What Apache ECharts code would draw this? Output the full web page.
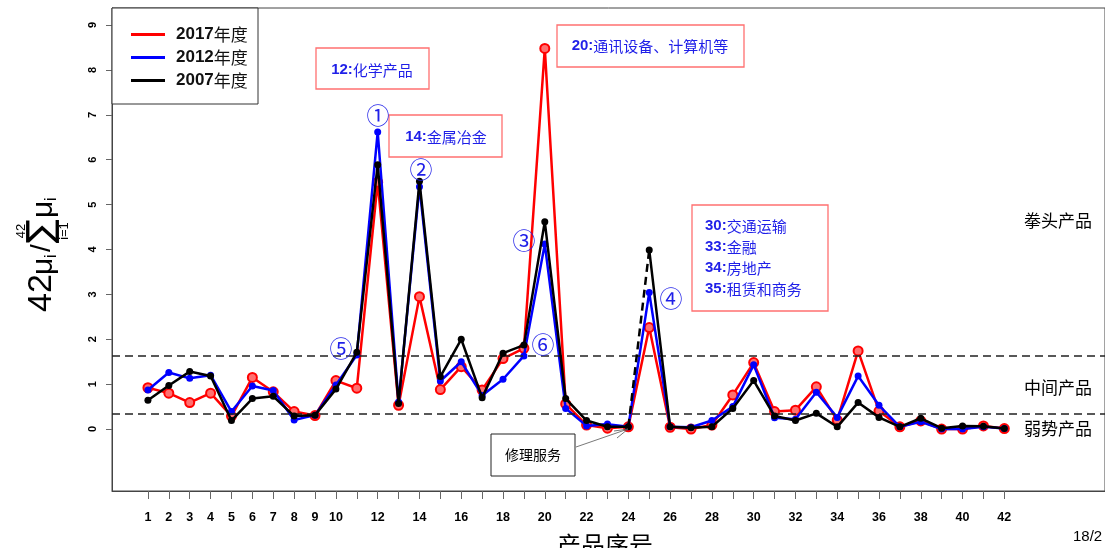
<!DOCTYPE html>
<html>
<head>
<meta charset="utf-8">
<script src="https://cdn.jsdelivr.net/npm/echarts@6/dist/echarts.min.js"></script>
<style>
html,body{margin:0;padding:0;background:#fff;}
#chart{width:1105px;height:548px;}
</style>
</head>
<body>
<div id="chart"></div>
<script>
// ---- data ----
const products = Array.from({length: 42}, (_, i) => i + 1);
const seriesNames = ['2017年度', '2012年度', '2007年度'];
const v2017 = [0.92,0.80,0.59,0.80,0.29,1.15,0.83,0.39,0.30,1.08,
               0.91,5.50,0.53,2.95,0.88,1.39,0.87,1.57,1.80,8.48,
               0.56,0.09,0.02,0.05,2.26,0.04,0.00,0.09,0.76,1.48,
               0.39,0.42,0.94,0.20,1.74,0.40,0.05,0.18,0.00,0.00,0.07,0.01];
const v2012 = [0.87,1.26,1.13,1.20,0.39,0.96,0.86,0.20,0.31,0.98,
               1.65,6.62,0.60,5.40,1.07,1.50,0.75,1.11,1.63,4.12,
               0.46,0.07,0.11,0.05,3.04,0.05,0.04,0.19,0.50,1.43,
               0.25,0.22,0.82,0.26,1.18,0.53,0.05,0.16,0.00,0.00,0.05,0.01];
const v2007 = [0.64,0.97,1.28,1.18,0.19,0.68,0.73,0.29,0.31,0.89,
               1.71,5.89,0.57,5.52,1.17,2.00,0.70,1.69,1.87,4.62,
               0.68,0.19,0.05,0.05,3.99,0.05,0.03,0.05,0.46,1.08,
               0.29,0.19,0.35,0.05,0.59,0.26,0.05,0.24,0.02,0.07,0.06,0.01];
const thresholds = [1.64, 0.33];
const yTicks = [0,1,2,3,4,5,6,7,8,9];
const xLabels = [1,2,3,4,5,6,7,8,9,10,12,14,16,18,20,22,24,26,28,30,32,34,36,38,40,42];
const dashedFrom = 24, dashedTo = 25;

// ---- build ----
const pairs = arr => arr.map((v, i) => [products[i], v]);
const pairsRange = (arr, a, b) => arr.map((v, i) => [products[i], v]).filter(p => p[0] >= a && p[0] <= b);

const chart = echarts.init(document.getElementById('chart'));
const cjk = '"Noto Sans CJK SC", "Noto Sans", sans-serif';
const latin = '"Liberation Sans", Arial, sans-serif';
const narrow = '"Liberation Sans Narrow", "Liberation Sans", Arial, sans-serif';
const blueTxt = '#1f1fe8';

function txt(x, y, text, extra) {
  return Object.assign({type: 'text', silent: true, z: 50,
    style: Object.assign({x: x, y: y, text: text, fill: '#000', fontFamily: cjk, fontSize: 15,
      align: 'center', verticalAlign: 'middle'}, extra || {})});
}
function box(x, y, w, h, stroke, lw) {
  return {type: 'rect', silent: true, z: 40, shape: {x: x, y: y, width: w, height: h},
    style: {fill: '#fff', stroke: stroke, lineWidth: lw}};
}
function ft(x, y, text, size, align, family) {
  return {type: 'text', style: {x: x, y: y, text: text, fontSize: size, fontFamily: family || latin, fill: '#000',
    align: align || 'left', verticalAlign: 'middle'}};
}
const annRich = {b: {fontWeight: 'bold', fontFamily: latin, fontSize: 15, fill: blueTxt}};

const graphics = [
  // legend frame
  {type: 'rect', silent: true, z: 1, shape: {x: 112, y: 8, width: 146, height: 96},
   style: {fill: '#fff', stroke: '#333', lineWidth: 1}},
  // annotation boxes
  box(316, 48, 113, 41, '#ff7070', 1.3),
  txt(372, 70, '{b|12:}化学产品', {fill: blueTxt, rich: annRich}),
  box(389, 115, 113, 42, '#ff7070', 1.3),
  txt(446, 137, '{b|14:}金属冶金', {fill: blueTxt, rich: annRich}),
  box(557, 25, 187, 42, '#ff7070', 1.3),
  txt(650, 46, '{b|20:}通讯设备、计算机等', {fill: blueTxt, rich: annRich}),
  box(692, 205, 136, 106, '#ff7070', 1.3),
  txt(705, 226, '{b|30:}交通运输', {fill: blueTxt, rich: annRich, align: 'left'}),
  txt(705, 247, '{b|33:}金融', {fill: blueTxt, rich: annRich, align: 'left'}),
  txt(705, 268, '{b|34:}房地产', {fill: blueTxt, rich: annRich, align: 'left'}),
  txt(705, 289, '{b|35:}租赁和商务', {fill: blueTxt, rich: annRich, align: 'left'}),
  // circled numbers
  txt(378, 115, '①', {fill: blueTxt, fontSize: 23}),
  txt(421, 169, '②', {fill: blueTxt, fontSize: 23}),
  txt(524, 240, '③', {fill: blueTxt, fontSize: 23}),
  txt(671, 298, '④', {fill: blueTxt, fontSize: 23}),
  txt(341, 348, '⑤', {fill: blueTxt, fontSize: 23}),
  txt(543, 344, '⑥', {fill: blueTxt, fontSize: 23}),
  // right side category labels
  txt(1058, 221, '拳头产品', {fontSize: 17}),
  txt(1058, 388, '中间产品', {fontSize: 17}),
  txt(1058, 429, '弱势产品', {fontSize: 17}),
  // repair service callout
  box(491, 434, 84, 42, '#222', 1),
  txt(533, 455, '修理服务', {fontSize: 14}),
  {type: 'line', silent: true, z: 45, shape: {x1: 576, y1: 447, x2: 628, y2: 429}, style: {stroke: '#555', lineWidth: 0.8}},
  {type: 'line', silent: true, z: 45, shape: {x1: 628, y1: 429, x2: 614, y2: 431}, style: {stroke: '#555', lineWidth: 0.8}},
  {type: 'line', silent: true, z: 45, shape: {x1: 628, y1: 429, x2: 617, y2: 438}, style: {stroke: '#555', lineWidth: 0.8}},
  // x axis title (cut at bottom) and page number
  txt(605, 533, '产品序号', {fontSize: 24, verticalAlign: 'top'}),
  txt(1073, 537, '18/2', {fontSize: 15, align: 'left', fontFamily: latin}),
  // y axis title: 42 mu_i / sum_{i=1}^{42} mu_i  (rotated, reads bottom to top)
  {type: 'group', x: 42, y: 250, rotation: Math.PI / 2, silent: true, children: [
    ft(-62, 0, '42', 34),
    ft(-25, 2, 'μ', 30),
    ft(-8, 10, 'i', 16),
    ft(-2, 0, '/', 28),
    ft(19, 1, '∑', 36, 'center', '"DejaVu Sans", sans-serif'),
    ft(19, -21, '42', 13, 'center'),
    ft(19, 22, 'i=1', 13, 'center'),
    ft(32, 2, 'μ', 30),
    ft(49, 10, 'i', 16)
  ]}
];

const option = {
  backgroundColor: '#fff',
  animation: false,
  grid: {left: 112, right: -2, top: 8, bottom: 57, show: true, borderColor: '#444', borderWidth: 1, containLabel: false},
  legend: {
    orient: 'vertical', left: 126, top: 21, itemWidth: 34, itemHeight: 3, itemGap: 6, icon: 'rect',
    itemStyle: {borderWidth: 0},
    data: [
      {name: seriesNames[0], itemStyle: {color: '#ff0000', borderWidth: 0}},
      {name: seriesNames[1], itemStyle: {color: '#0000ff', borderWidth: 0}},
      {name: seriesNames[2], itemStyle: {color: '#000000', borderWidth: 0}}
    ],
    formatter: n => '{b|' + n.slice(0, 4) + '}' + n.slice(4),
    textStyle: {fontSize: 17, lineHeight: 17, fontFamily: cjk, color: '#111', padding: [0, 0, 0, 6],
      rich: {b: {fontWeight: 'bold', fontFamily: latin, fontSize: 17, color: '#111'}}},
    selectedMode: false, z: 20
  },
  xAxis: {
    type: 'value', min: -0.72, max: 46.82,
    splitLine: {show: false},
    axisLine: {show: true, onZero: false, lineStyle: {color: '#444'}},
    axisTick: {show: true, length: 8, customValues: products, lineStyle: {color: '#666'}},
    axisLabel: {customValues: xLabels, margin: 20, fontSize: 12.5, fontWeight: 'bold', fontFamily: narrow, color: '#000'}
  },
  yAxis: {
    type: 'value', min: -1.38, max: 9.38,
    splitLine: {show: false},
    axisLine: {show: true, onZero: false, lineStyle: {color: '#444'}},
    axisTick: {show: true, length: 6, customValues: yTicks, lineStyle: {color: '#666'}},
    axisLabel: {customValues: yTicks, rotate: 90, margin: 14, fontSize: 11, fontWeight: 'bold', fontFamily: narrow, color: '#000'}
  },
  series: [
    {name: seriesNames[0], type: 'line', data: pairs(v2017), z: 3,
     symbol: 'circle', symbolSize: 9,
     lineStyle: {color: '#ff0000', width: 2.5},
     itemStyle: {color: '#ff7070', borderColor: '#ff0000', borderWidth: 2}},
    {name: seriesNames[1], type: 'line', data: pairs(v2012), z: 4,
     symbol: 'circle', symbolSize: 7,
     lineStyle: {color: '#0000ff', width: 2.5},
     itemStyle: {color: '#0000ff'},
     markLine: {silent: true, symbol: 'none', label: {show: false},
       lineStyle: {color: '#222', type: [8, 5], width: 1.5},
       data: thresholds.map(t => ({yAxis: t}))}},
    {name: seriesNames[2], type: 'line', data: pairsRange(v2007, 1, dashedFrom), z: 5,
     symbol: 'circle', symbolSize: 7,
     lineStyle: {color: '#000', width: 2.5}, itemStyle: {color: '#000'}},
    {name: seriesNames[2], type: 'line', data: pairsRange(v2007, dashedFrom, dashedTo), z: 5,
     symbol: 'none',
     lineStyle: {color: '#000', width: 2.5, type: [8, 5]}, itemStyle: {color: '#000'}},
    {name: seriesNames[2], type: 'line', data: pairsRange(v2007, dashedTo, 42), z: 5,
     symbol: 'circle', symbolSize: 7,
     lineStyle: {color: '#000', width: 2.5}, itemStyle: {color: '#000'}}
  ],
  graphic: graphics
};
chart.setOption(option);
</script>
</body>
</html>
